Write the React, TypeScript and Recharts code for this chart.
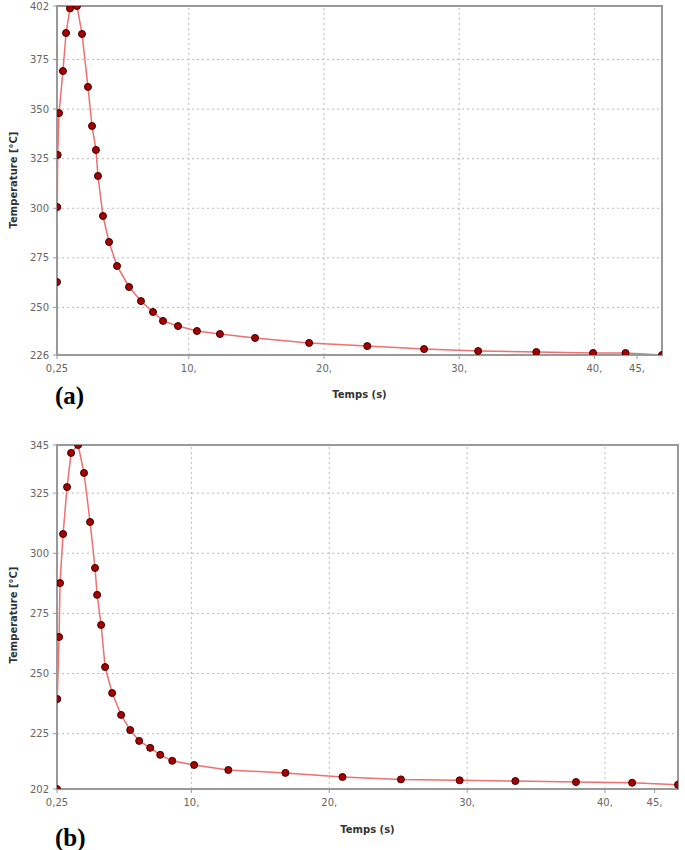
import React from "react";
import {
  LineChart,
  Line,
  XAxis,
  YAxis,
  CartesianGrid,
  ReferenceLine,
  ReferenceArea,
} from "recharts";

// chart (a)
const timeA = [
  0.25, 0.27, 0.3, 0.4, 0.69, 0.92, 1.21, 1.73, 2.1, 2.54, 2.84, 3.13, 3.28,
  3.65, 4.1, 4.69, 5.58, 6.46, 7.35, 8.09, 9.2, 10.6, 12.3, 14.9, 18.9, 23.2,
  27.4, 31.4, 35.7, 39.9, 42.3, 45,
];
const tempA = [
  262.8, 300.6, 326.9, 348, 369.2, 388.4, 400.8, 402, 387.9, 361.2, 341.5,
  329.4, 316.3, 296.1, 283, 270.9, 260.3, 253.2, 247.7, 243.2, 240.6, 238.1,
  236.6, 234.6, 232.1, 230.5, 229, 228, 227.5, 227, 227, 226,
];
const domainXA = [0.25, 45];
const domainYA = [226, 402];
const yTicksA = [226, 250, 275, 300, 325, 350, 375, 402];
const xTicksA = [0.25, 10, 20, 30, 40, 43.15];
const xLabelsA = ["0,25", "10,", "20,", "30,", "40,", "45,"];

// chart (b)
const timeB = [
  0.25, 0.27, 0.4, 0.47, 0.69, 0.98, 1.27, 1.78, 2.21, 2.65, 3.01, 3.16, 3.45,
  3.74, 4.25, 4.9, 5.56, 6.21, 7.01, 7.74, 8.61, 10.2, 12.68, 16.82, 20.96,
  25.2, 29.46, 33.5, 37.9, 41.97, 45.3,
];
const tempB = [
  202, 239.4, 265.2, 287.6, 308, 327.5, 341.7, 345, 333.4, 313, 293.9, 282.7,
  270.2, 252.7, 241.9, 232.8, 226.5, 222, 219.1, 216.2, 213.7, 212, 209.9,
  208.7, 207, 206, 205.6, 205.3, 204.9, 204.6, 203.8,
];
const domainXB = [0.25, 45.3];
const domainYB = [202, 345];
const yTicksB = [202, 225, 250, 275, 300, 325, 345];
const xTicksB = [0.25, 10, 20, 30, 40, 43.6];
const xLabelsB = ["0,25", "10,", "20,", "30,", "40,", "45,"];

const gridX = [10, 20, 30, 40];

const tickStyle = { fontSize: 10, fill: "#666", fontFamily: "DejaVu Sans" };
const titleStyle = {
  fontSize: 10,
  fontWeight: "bold",
  fill: "#333",
  fontFamily: "DejaVu Sans",
};

function Panel({ time, temp, domX, domY, yTicks, xTicks, xLabels, margin, xHeight, labelOffset }) {
  const data = time.map((t, i) => ({ t, v: temp[i] }));
  return (
    <LineChart width={685} height={420} data={data} margin={margin}>
      <CartesianGrid vertical={false} stroke="#bbb" strokeDasharray="2 3" />
      {gridX.map((g) => (
        <ReferenceLine key={g} x={g} stroke="#bbb" strokeDasharray="2 3" />
      ))}
      <XAxis
        dataKey="t"
        type="number"
        domain={domX}
        ticks={xTicks}
        tickFormatter={(v) => xLabels[xTicks.indexOf(v)]}
        allowDataOverflow
        height={xHeight}
        tick={tickStyle}
        tickSize={4}
        tickMargin={6}
        stroke="#999"
        axisLine={{ stroke: "#999", strokeWidth: 2 }}
        label={{
          value: "Temps (s)",
          position: "insideBottom",
          offset: labelOffset,
          style: titleStyle,
        }}
      />
      <YAxis
        type="number"
        domain={domY}
        ticks={yTicks}
        allowDataOverflow
        width={margin.left ? 57 - margin.left : 57}
        tick={tickStyle}
        tickSize={4}
        tickMargin={4}
        stroke="#999"
        axisLine={{ stroke: "#999", strokeWidth: 2 }}
      />
      <ReferenceArea
        x1={domX[0]}
        x2={domX[1]}
        y1={domY[0]}
        y2={domY[1]}
        fill="none"
        stroke="#999"
        strokeWidth={2}
      />
      <Line
        type="linear"
        dataKey="v"
        stroke="#ee7070"
        strokeWidth={1.5}
        dot={{ r: 3.5, fill: "#a80000", stroke: "#3a0000", strokeWidth: 1 }}
        isAnimationActive={false}
      />
    </LineChart>
  );
}

const yTitle = {
  position: "absolute",
  left: 13,
  transform: "translate(-50%, -50%) rotate(-90deg)",
  whiteSpace: "nowrap",
  fontFamily: "DejaVu Sans",
  fontWeight: "bold",
  fontSize: 10,
  color: "#333",
} as React.CSSProperties;

const panelTag = {
  position: "absolute",
  left: 55,
  fontFamily: "Liberation Serif",
  fontWeight: "bold",
  fontSize: 25,
  lineHeight: 1,
  color: "#000",
} as React.CSSProperties;

export default function App() {
  return (
    <div
      style={{
        position: "absolute",
        left: 0,
        top: 0,
        width: 685,
        height: 850,
        background: "#fff",
      }}
    >
      <div style={{ position: "absolute", left: 0, top: 0 }}>
        <Panel
          time={timeA}
          temp={tempA}
          domX={domainXA}
          domY={domainYA}
          yTicks={yTicksA}
          xTicks={xTicksA}
          xLabels={xLabelsA}
          margin={{ top: 6, right: 23, left: 0, bottom: 25 }}
          xHeight={40}
          labelOffset={-3}
        />
      </div>
      <div style={{ position: "absolute", left: 0, top: 430 }}>
        <Panel
          time={timeB}
          temp={tempB}
          domX={domainXB}
          domY={domainYB}
          yTicks={yTicksB}
          xTicks={xTicksB}
          xLabels={xLabelsB}
          margin={{ top: 15, right: 7, left: 1, bottom: 17 }}
          xHeight={44}
          labelOffset={0}
        />
      </div>
      <div style={{ ...yTitle, top: 180 }}>Temperature [°C]</div>
      <div style={{ ...yTitle, top: 615 }}>Temperature [°C]</div>
      <div style={{ ...panelTag, top: 383 }}>(a)</div>
      <div style={{ ...panelTag, top: 825 }}>(b)</div>
    </div>
  );
}
